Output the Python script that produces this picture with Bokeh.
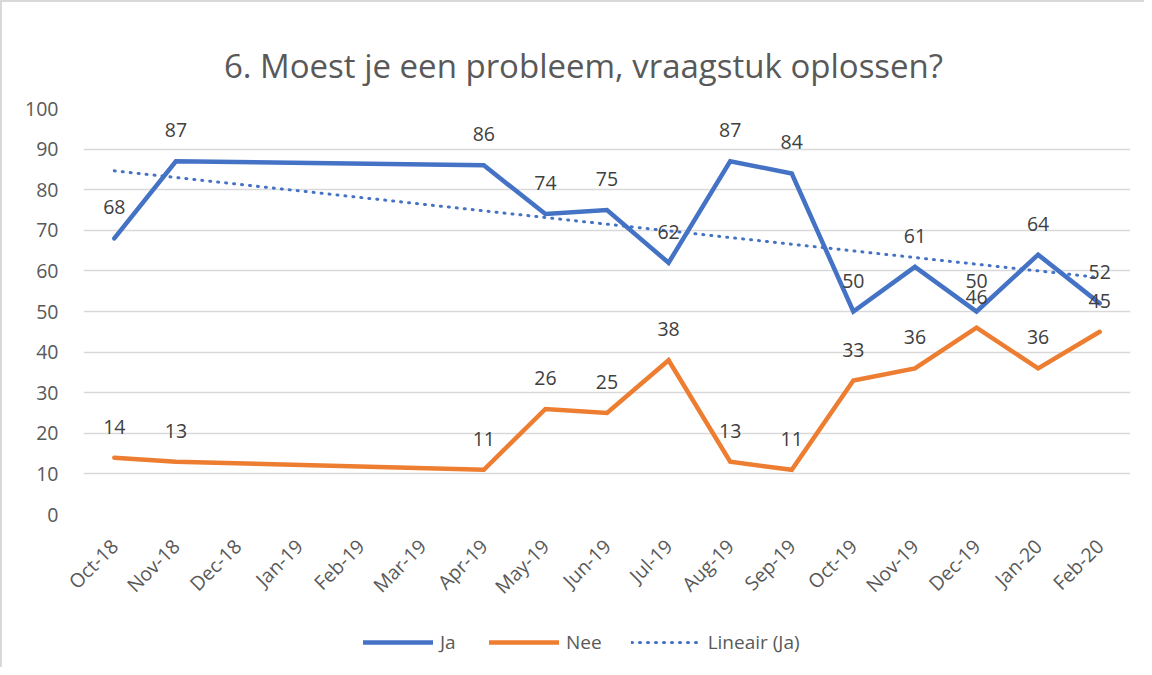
import numpy as np
from bokeh.plotting import figure
from bokeh.layouts import column
from bokeh.models import Legend, LegendItem, FixedTicker, ColumnDataSource, Label
from bokeh.core.properties import value
from bokeh.embed import file_html
from bokeh.resources import INLINE

months = ["Oct-18", "Nov-18", "Dec-18", "Jan-19", "Feb-19", "Mar-19", "Apr-19",
          "May-19", "Jun-19", "Jul-19", "Aug-19", "Sep-19", "Oct-19", "Nov-19",
          "Dec-19", "Jan-20", "Feb-20"]
survey_months = ["Oct-18", "Nov-18", "Apr-19", "May-19", "Jun-19", "Jul-19", "Aug-19",
                 "Sep-19", "Oct-19", "Nov-19", "Dec-19", "Jan-20", "Feb-20"]
ja = [68, 87, 86, 74, 75, 62, 87, 84, 50, 61, 50, 64, 52]
nee = [14, 13, 11, 26, 25, 38, 13, 11, 33, 36, 46, 36, 45]
yticks = [0, 10, 20, 30, 40, 50, 60, 70, 80, 90, 100]
series_names = ["Ja", "Nee", "Lineair (Ja)"]
title_text = "6. Moest je een probleem, vraagstuk oplossen?"

# linear trendline (Excel "Lineair (Ja)") fitted on Ja against month index
idx = np.array([months.index(m) for m in survey_months], dtype=float)
slope, intercept = np.polyfit(idx, np.array(ja, dtype=float), 1)
trend = [intercept + slope * i for i in range(len(months))]

FONT = "Open Sans"
BLUE = "#4472C4"
ORANGE = "#ED7D31"


def bare(fig):
    fig.outline_line_color = None
    fig.xgrid.grid_line_color = None
    fig.ygrid.grid_line_color = None
    fig.background_fill_color = "white"
    fig.border_fill_color = "white"


# title strip
tf = figure(width=1142, height=94, x_range=(0, 1), y_range=(0, 1),
            output_backend="svg", toolbar_location=None,
            x_axis_type=None, y_axis_type=None,
            min_border_top=0, min_border_bottom=0)
bare(tf)
tf.add_layout(Label(x=500, y=31, x_units="screen", y_units="screen",
                    text=title_text, text_font=FONT, text_font_size="33px",
                    text_color="#595959", text_align="center",
                    text_baseline="alphabetic"))

# main chart
p = figure(x_range=months, y_range=(0, 100), width=1142, height=515,
           output_backend="svg", toolbar_location=None,
           min_border_left=81, min_border_right=14, min_border_top=12,
           min_border_bottom=96)
bare(p)
p.ygrid.grid_line_color = "#d9d9d9"
p.ygrid.grid_line_width = 1.5
p.yaxis.ticker = FixedTicker(ticks=yticks)

for ax in (p.xaxis, p.yaxis):
    ax.axis_line_color = None
    ax.major_tick_line_color = None
    ax.minor_tick_line_color = None
    ax.major_label_text_font = FONT
    ax.major_label_text_font_size = "19.5px"
    ax.major_label_text_color = "#595959"
p.yaxis.major_label_standoff = 19
p.xaxis.major_label_orientation = np.pi / 4
p.xaxis.major_label_standoff = 22

p.line(survey_months, ja, line_color=BLUE, line_width=4.5,
       line_join="miter", line_cap="round")
p.line(survey_months, nee, line_color=ORANGE, line_width=4.5,
       line_join="miter", line_cap="round")
p.line(months, trend, line_color=BLUE, line_width=3, line_dash="1 7",
       line_cap="round")

src_ja = ColumnDataSource(dict(x=survey_months, y=ja, t=[str(v) for v in ja]))
src_nee = ColumnDataSource(dict(x=survey_months, y=nee, t=[str(v) for v in nee]))
for src in (src_ja, src_nee):
    p.text(x="x", y="y", text="t", source=src, y_offset=-31,
           text_align="center", text_baseline="middle",
           text_font=value(FONT), text_font_size="19.5px", text_color="#404040")

# legend strip below the chart (proxies carry the same line styles as the series)
lg = figure(width=1142, height=56, x_range=(0, 1), y_range=(0, 1),
            output_backend="svg", toolbar_location=None,
            x_axis_type=None, y_axis_type=None,
            min_border_top=0, min_border_bottom=0)
bare(lg)
e_ja = lg.line([np.nan], [np.nan], line_color=BLUE, line_width=4.5, line_cap="round")
e_nee = lg.line([np.nan], [np.nan], line_color=ORANGE, line_width=4.5, line_cap="round")
e_tr = lg.line([np.nan], [np.nan], line_color=BLUE, line_width=3, line_dash="1 7",
               line_cap="round")

legend = Legend(items=[LegendItem(label=series_names[0], renderers=[e_ja]),
                       LegendItem(label=series_names[1], renderers=[e_nee]),
                       LegendItem(label=series_names[2], renderers=[e_tr])],
                orientation="horizontal", location=(280, 12),
                label_text_font=FONT, label_text_font_size="19px",
                label_text_color="#595959", glyph_width=70,
                spacing=29, label_standoff=7, border_line_color=None,
                background_fill_alpha=0, margin=0, padding=0)
lg.add_layout(legend)

layout = column(tf, p, lg, spacing=0)
layout.styles = {"border-left": "2px solid #d9d9d9", "border-top": "2px solid #d9d9d9"}

open("out.html", "w").write(file_html(layout, INLINE))
